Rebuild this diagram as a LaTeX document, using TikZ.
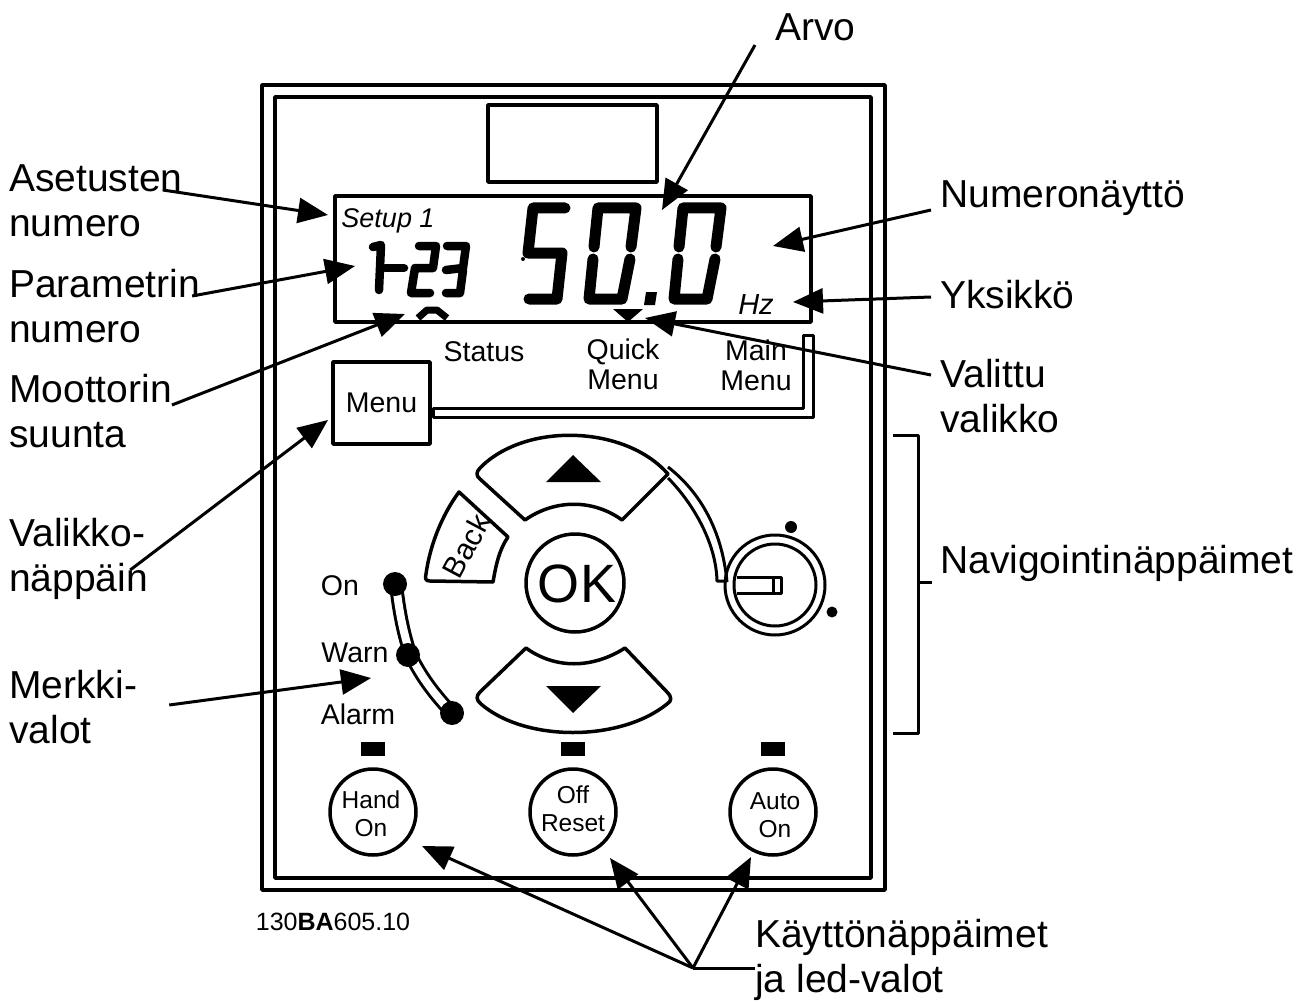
\documentclass[tikz,border=0pt]{standalone}
\usepackage{fontspec}
\setmainfont{Liberation Sans}
\usetikzlibrary{arrows.meta}

\begin{document}
\begin{tikzpicture}[x=1pt, y=-1pt, line join=round,
    frameline/.style = {draw, line width=3.5pt},
    lcdbig/.style = {line width=11pt, line cap=round},
    lcdsmall/.style = {line width=8.5pt, line cap=round},
    pointer/.style = {line width=3pt, -{Triangle[length=30pt,width=25pt]}},
    callout/.style = {inner sep=0pt, anchor=west, align=left, font=\fontsize{39}{45}\selectfont},
    keytext/.style = {inner sep=0pt, font=\fontsize{28.5}{30}\selectfont},
    roundkey/.style = {circle, draw, line width=3.5pt, minimum size=86pt, inner sep=0pt},
    ledmark/.style = {fill, minimum width=24pt, minimum height=14pt, inner sep=0pt},
    stripline/.style = {line width=3pt, double, double distance=8pt}]
    \useasboundingbox (0,0) rectangle (1309,1003);

    % housing
    \node (housing) [frameline, minimum width=623pt, minimum height=805pt, inner sep=0pt] at (573.5,487.5) {};
    \node (inner) [frameline, minimum width=596pt, minimum height=781pt, inner sep=0pt] at (573,487.5) {};
    \node (window) [frameline, minimum width=169pt, minimum height=77pt, inner sep=0pt] at (572.5,143.5) {};
    \node (display) [frameline, minimum width=476pt, minimum height=126pt, inner sep=0pt] at (573,259) {};

    % digits on the display
    \draw[lcdbig] (565,208) -- (533,208) -- (528,253) -- (562,253) -- (557,299) -- (529,299);
    \draw[lcdbig] (594,247) -- (598,208) -- (636,208) -- (631,247);
    \draw[lcdbig] (593,259) -- (589,299) -- (622,299) -- (630,259);
    \draw[lcdbig] (679,247) -- (683,208) -- (721,208) -- (716,247);
    \draw[lcdbig] (678,259) -- (674,299) -- (707,299) -- (715,259);
    \fill (646,292) -- (657,292) -- (655,305) -- (644,305) -- cycle;
    \fill (523,259) circle (2);
    \draw[lcdsmall] (373,247) -- (381,245) -- (379,290);
    \draw[lcdsmall] (385,268) -- (404,268);
    \draw[lcdsmall] (419,246) -- (436,246) -- (433,268) -- (415,268) -- (411,293) -- (430,293);
    \draw[lcdsmall] (447,246) -- (466,246) -- (463,268) -- (446,270);
    \draw[lcdsmall] (463,270) -- (460,293) -- (446,293);
    \draw[line width=7pt] (418,318) -- (427,310) -- (437,310) -- (447,318);
    \fill (613,309) -- (643,309) -- (628,322) -- cycle;
    \node (setup) [keytext, font=\fontsize{27}{30}\selectfont\itshape] at (388,221) {Setup 1};
    \node (hz) [keytext, font=\fontsize{29}{30}\selectfont\itshape] at (756,305) {Hz};

    % menu row
    \node (status) [keytext] at (484,352) {Status};
    \node (quick) [keytext, align=center] at (623,364) {Quick\\Menu};
    \node (main) [keytext, align=center] at (756,365) {Main\\Menu};
    \node (menu) [keytext, frameline, minimum width=97pt, minimum height=82pt] at (381.5,403) {Menu};
    \draw[line width=3pt] (433,408) -- (803,408) -- (803,335) -- (813,335) -- (813,417) -- (433,417) -- cycle;

    % navigation keys
    \draw[line width=3.5pt] (525,520) .. controls (555,499) and (593,499) .. (622,520) -- (668,474) .. controls (625,425) and (525,422) .. (480,468) .. controls (476,472) and (476,476) .. (480,479) -- cycle;
    \fill (573,455) -- (601,482) -- (546,482) -- cycle;
    \draw[line width=3.5pt] (526,648) .. controls (555,669) and (592,669) .. (625,648) -- (667,692) .. controls (672,697) and (672,701) .. (667,704) .. controls (620,742) and (525,742) .. (481,704) .. controls (476,700) and (476,696) .. (480,692) -- cycle;
    \fill (546,686) -- (601,686) -- (573,713) -- cycle;
    \node (ok) [circle, draw, line width=3.5pt, minimum size=98pt, inner sep=0pt, font=\fontsize{52}{52}\selectfont] at (575,583) {};
    \node (oktext) [inner sep=0pt, font=\fontsize{54}{54}\selectfont] at (577,584) {OK};
    \draw[line width=3.5pt] (459,492) -- (508,537) .. controls (499,550) and (496,565) .. (493,582) -- (430,581) .. controls (425,581) and (425,578) .. (426,574) .. controls (430,545) and (442,515) .. (459,492) -- cycle;
    \node (back) [keytext, font=\fontsize{30}{30}\selectfont, rotate=62] at (466,546) {Back};

    % potentiometer
    \draw[line width=3pt] (668,467) .. controls (700,492) and (722,530) .. (727,582);
    \draw[line width=3pt] (668,478) .. controls (690,500) and (716,540) .. (717,581) -- (727,581);
    \node (knob) [circle, draw, line width=3pt, minimum size=100pt, inner sep=0pt] at (775,585) {};
    \node (knobin) [circle, draw, line width=3pt, minimum size=82pt, inner sep=0pt] at (775,585) {};
    \draw[line width=3pt] (737,577) -- (781,577) -- (781,593) -- (737,593);
    \draw[line width=3pt] (773,577) -- (773,593);
    \fill (791,527) circle (6);
    \fill (832,612) circle (5.5);

    % status leds
    \draw[stripline] (396,584) .. controls (399,612) and (404,636) .. (411,656) .. controls (423,680) and (437,697) .. (452,713);
    \node (ledon) [circle, fill, minimum size=24pt, inner sep=0pt] at (395,584) {};
    \node (ledwarn) [circle, fill, minimum size=24pt, inner sep=0pt] at (408,655) {};
    \node (ledalarm) [circle, fill, minimum size=24pt, inner sep=0pt] at (452,713) {};
    \node (on) [keytext] at (340,586) {On};
    \node (warn) [keytext] at (355,653) {Warn};
    \node (alarm) [keytext] at (358,714) {Alarm};

    % operation keys
    \node (ledhand) [ledmark] at (373,749) {};
    \node (ledoff) [ledmark] at (573,749) {};
    \node (ledauto) [ledmark] at (773,749) {};
    \node (hand) [roundkey, align=center, font=\fontsize{24.5}{28}\selectfont] at (373,812) {};
    \node (off) [roundkey, align=center, font=\fontsize{24.5}{28}\selectfont] at (573,812) {};
    \node (auto) [roundkey, align=center, font=\fontsize{24.5}{28}\selectfont] at (773,812) {};
    \node (handtext) [inner sep=0pt, align=center, font=\fontsize{24.5}{28}\selectfont] at (371,814) {Hand\\On};
    \node (offtext) [inner sep=0pt, align=center, font=\fontsize{24.5}{28}\selectfont] at (573,809) {Off\\Reset};
    \node (autotext) [inner sep=0pt, align=center, font=\fontsize{24.5}{28}\selectfont] at (775,815) {Auto\\On};
    \node (partno) [inner sep=0pt, font=\fontsize{25}{28}\selectfont] at (333,922) {130\textbf{BA}605.10};

    % callouts
    \node (arvo) [callout] at (775,27) {Arvo};
    \node (asetus) [callout] at (9,201) {Asetusten\\numero};
    \node (param) [callout] at (9,306) {Parametrin\\numero};
    \node (motor) [callout] at (9,411) {Moottorin\\suunta};
    \node (menukey) [callout] at (9,559) {Valikko-\\näppäin};
    \node (merkki) [callout] at (9,707) {Merkki-\\valot};
    \node (numero) [callout] at (940,198) {Numeronäyttö};
    \node (yksikko) [callout] at (940,295) {Yksikkö};
    \node (valittu) [callout] at (940,396) {Valittu\\valikko};
    \node (navi) [callout] at (940,563) {Navigointinäppäimet};
    \node (kaytto) [callout] at (755,960) {Käyttönäppäimet\\ja led-valot};

    \coordinate (tiparvo) at (662,210);
    \coordinate (tipasetus) at (328,215);
    \coordinate (tipparam) at (355,266);
    \coordinate (tipmotor) at (405,314);
    \coordinate (tipmenu) at (328,420);
    \coordinate (tipmerkki) at (371,678);
    \coordinate (tipnumero) at (773,246);
    \coordinate (tipyksikko) at (793,302);
    \coordinate (tipvalittu) at (645,318);
    \coordinate (tiphand) at (422,846);
    \coordinate (tipoff) at (610,858);
    \coordinate (tipauto) at (751,857);
    \coordinate (fork) at (693,968);

    \draw[pointer] ([xshift=-20pt,yshift=-18pt]arvo.west) -- (tiparvo);
    \draw[pointer] ([xshift=-20pt,yshift=11pt]asetus.east) -- (tipasetus);
    \draw[pointer] ([xshift=-8pt,yshift=10pt]param.east) -- (tipparam);
    \draw[pointer] ([xshift=0pt,yshift=6pt]motor.east) -- (tipmotor);
    \draw[pointer] ([xshift=-18pt,yshift=-11pt]menukey.east) -- (tipmenu);
    \draw[pointer] ([xshift=32pt,yshift=2pt]merkki.east) -- (tipmerkki);
    \draw[pointer] ([xshift=-9pt,yshift=-12pt]numero.west) -- (tipnumero);
    \draw[pointer] ([xshift=-9pt,yshift=-2pt]yksikko.west) -- (tipyksikko);
    \draw[pointer] ([xshift=-9pt,yshift=21pt]valittu.west) -- (tipvalittu);
    \draw[line width=3pt] ([yshift=-8pt]kaytto.west) -- (fork);
    \draw[pointer] (fork) -- (tiphand);
    \draw[pointer] (fork) -- (tipoff);
    \draw[pointer] (fork) -- (tipauto);

    % bracket of the navigation keys
    \draw[line width=3pt] (893,435) -- (918,435) -- (918,733) -- (893,733);
    \draw[line width=3pt] (918,582) -- (932,582);
\end{tikzpicture}
\end{document}
